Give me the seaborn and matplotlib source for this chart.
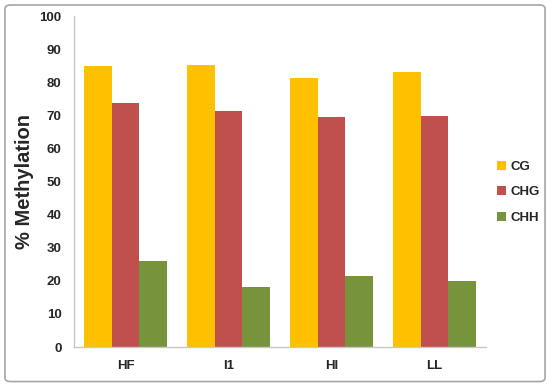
import matplotlib
matplotlib.use("Agg")
import matplotlib.pyplot as plt
import seaborn as sns
import pandas as pd
from matplotlib.patches import FancyBboxPatch

categories = ["HF", "I1", "HI", "LL"]
series = ["CG", "CHG", "CHH"]
cg = [84.9, 85.2, 81.2, 83.2]
chg = [73.9, 71.5, 69.4, 69.7]
chh = [26.1, 18.0, 21.4, 19.9]
colors = ["#FFC000", "#C0504D", "#77933C"]

rows = []
for s, vals in zip(series, [cg, chg, chh]):
    for c, v in zip(categories, vals):
        rows.append({"cat": c, "series": s, "value": v})
df = pd.DataFrame(rows)

sns.set_theme(style="white")
plt.rcParams["font.family"] = ["Liberation Sans", "DejaVu Sans"]

fig = plt.figure(figsize=(5.5, 3.85), dpi=100)
ax = fig.add_axes([0.1345, 0.0987, 0.749, 0.859])
sns.barplot(data=df, x="cat", y="value", hue="series", order=categories,
            hue_order=series, palette=colors, width=0.81, saturation=1,
            edgecolor="none", linewidth=0, ax=ax, errorbar=None)
ax.set_xlim(-0.5, 3.5)
ax.set_ylim(0, 100)
ax.set_yticks(range(0, 101, 10))
ax.set_xlabel("")
ax.set_ylabel("% Methylation", fontsize=14.5, fontweight="bold", labelpad=4)
ax.tick_params(axis="both", length=0, labelsize=9.5)
ax.tick_params(axis="y", pad=9)
ax.tick_params(axis="x", pad=9)
for lab in ax.get_xticklabels() + ax.get_yticklabels():
    lab.set_fontweight("bold")
for sp in ["top", "right"]:
    ax.spines[sp].set_visible(False)
for sp in ["left", "bottom"]:
    ax.spines[sp].set_color("#c8c8c8")
    ax.spines[sp].set_linewidth(1.0)

handles, labels = ax.get_legend_handles_labels()
ax.legend(handles, labels, loc="center left", bbox_to_anchor=(1.027, 0.468),
          frameon=False, prop={"weight": "bold", "size": 9.5},
          borderaxespad=0, borderpad=0,
          handlelength=0.7, handleheight=0.7, handletextpad=0.35, labelspacing=1.0)

border = FancyBboxPatch((0.009, 0.009), 0.982, 0.978, boxstyle="round,pad=0,rounding_size=0.01",
                        transform=fig.transFigure, facecolor="none", edgecolor="#a6a6a6",
                        linewidth=1.2)
fig.patches.append(border)

fig.savefig("out.png", dpi=100)
